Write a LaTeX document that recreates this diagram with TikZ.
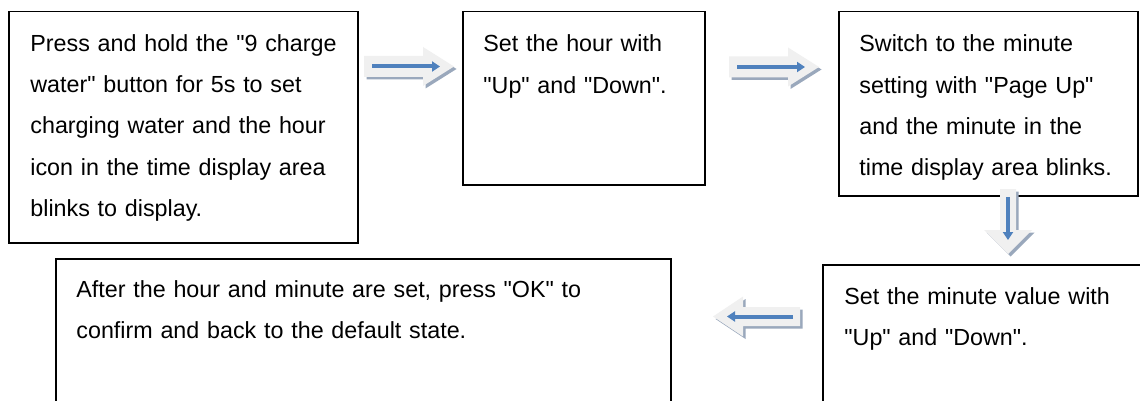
\documentclass[tikz,border=0pt]{standalone}
\usepackage{fontspec}
\setmainfont[Ligatures=TeXOff]{Liberation Sans}
\usetikzlibrary{arrows.meta}
\definecolor{arrowblue}{HTML}{4F81BD}
\definecolor{arrowfill}{HTML}{F0F0F0}
\definecolor{arrowshadow}{HTML}{9AA8BC}
\newcommand\qq{\char34\relax}
\begin{document}
\begin{tikzpicture}[x=0.5pt,y=-0.5pt,
  box/.style={draw=black, line width=0.75pt, anchor=north west, inner sep=0pt},
  txt/.style={anchor=base west, inner sep=0pt, align=left, text width=290pt,
    font=\fontsize{11.65pt}{20.6pt}\selectfont},
  blueline/.style={draw=arrowblue, line width=2pt, -{Triangle[length=4pt,width=5pt]}},
  rblock/.pic={
    \fill[arrowshadow] (2.5,-8) -- (61.5,-8) -- (61.5,-17) -- (92.5,2.5) -- (61.5,22) -- (61.5,13) -- (2.5,13) -- cycle;
    \fill[arrowfill] (0,-10.5) -- (59,-10.5) -- (59,-19.5) -- (90,0) -- (59,19.5) -- (59,10.5) -- (0,10.5) -- cycle;
    \draw[blueline] (8,0) -- (76,0);
  },
  dblock/.pic={
    \fill[arrowshadow] (-5.5,2.5) -- (-5.5,43.5) -- (-21.5,43.5) -- (2.5,67.5) -- (26.5,43.5) -- (10.5,43.5) -- (10.5,2.5) -- cycle;
    \fill[arrowfill] (-8,0) -- (-8,41) -- (-24,41) -- (0,65) -- (24,41) -- (8,41) -- (8,0) -- cycle;
    \draw[blueline] (0,8) -- (0,51);
  },
  lblock/.pic={
    \fill[arrowshadow] (2.5,-7) -- (-54.5,-7) -- (-54.5,-17.5) -- (-84.5,2.5) -- (-54.5,22.5) -- (-54.5,12) -- (2.5,12) -- cycle;
    \fill[arrowfill] (0,-9.5) -- (-57,-9.5) -- (-57,-20) -- (-87,0) -- (-57,20) -- (-57,9.5) -- (0,9.5) -- cycle;
    \draw[blueline] (-7,0) -- (-73,0);
  }]
\useasboundingbox (0,0) rectangle (1140,401);
\fill[white] (0,0) rectangle (1140,401);

% boxes
\node[box, minimum width=174.5pt, minimum height=115.5pt] (b1) at (8,11) {};
\node[box, minimum width=121pt, minimum height=86.5pt] (b2) at (462,11) {};
\node[box, minimum width=149.5pt, minimum height=92pt] (b3) at (838,11) {};
\node[box, minimum width=170pt, minimum height=80pt] (b4) at (822,264) {};
\node[box, minimum width=307.5pt, minimum height=80pt] (b5) at (55,258) {};

% texts
\node[txt] (t1) at (30,51.5) {Press and hold the \qq9 charge\\water\qq{} button for 5s to set\\charging water and the hour\\icon in the time display area\\blinks to display.};
\node[txt] (t2) at (483,52) {Set the hour with\\\qq Up\qq{} and \qq Down\qq.};
\node[txt] (t3) at (859,52) {Switch to the minute\\setting with \qq Page Up\qq\\and the minute in the\\time display area blinks.};
\node[txt] (t4) at (844,304.5) {Set the minute value with\\\qq Up\qq{} and \qq Down\qq.};
\node[txt] (t5) at (76,297.5) {After the hour and minute are set, press \qq OK\qq{} to\\confirm and back to the default state.};

% block arrows
\coordinate (a1) at (364,66.5);
\coordinate (a2) at (729,67);
\coordinate (a3) at (1008,189);
\coordinate (a4) at (800,316.5);
\pic at (a1) {rblock};
\pic at (a2) {rblock};
\pic at (a3) {dblock};
\pic at (a4) {lblock};
\end{tikzpicture}
\end{document}
